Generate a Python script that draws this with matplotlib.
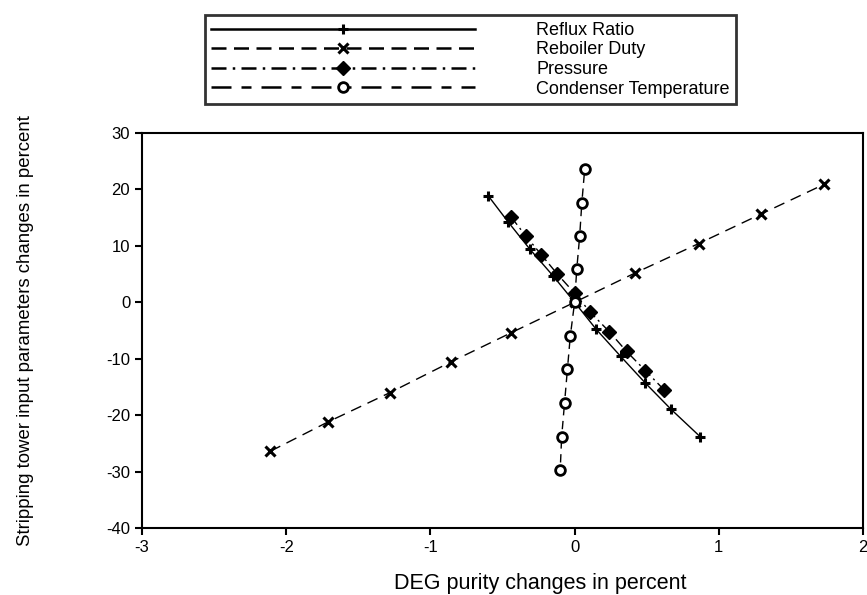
import matplotlib
matplotlib.use("Agg")
import matplotlib.pyplot as plt

plt.rcParams['font.family'] = ['Liberation Sans', 'DejaVu Sans']
plt.rcParams['axes.unicode_minus'] = False

# values (x: DEG purity change %, y: input change %)
reflux_x = [-0.60, -0.46, -0.31, -0.15, 0.0, 0.15, 0.32, 0.49, 0.67, 0.87]
reflux_y = [18.9, 14.2, 9.4, 4.7, 0.0, -4.8, -9.6, -14.3, -19.0, -23.8]

reboiler_x = [-2.11, -1.71, -1.28, -0.86, -0.44, 0.0, 0.42, 0.86, 1.29, 1.73]
reboiler_y = [-26.4, -21.2, -16.0, -10.6, -5.4, 0.0, 5.2, 10.4, 15.6, 20.9]

pressure_x = [-0.44, -0.34, -0.23, -0.12, 0.0, 0.11, 0.24, 0.36, 0.49, 0.62]
pressure_y = [15.1, 11.8, 8.4, 5.0, 1.6, -1.8, -5.2, -8.7, -12.1, -15.5]

condenser_x = [0.07, 0.05, 0.035, 0.015, 0.0, -0.03, -0.05, -0.07, -0.09, -0.10]
condenser_y = [23.6, 17.6, 11.7, 5.9, 0.0, -6.0, -11.9, -17.9, -23.9, -29.8]

labels = ['Reflux Ratio', 'Reboiler Duty', 'Pressure', 'Condenser Temperature']
xticks = [-3, -2, -1, 0, 1, 2]
yticks = [-40, -30, -20, -10, 0, 10, 20, 30]

fig = plt.figure(figsize=(8.67, 5.95), dpi=100)
ax = fig.add_axes([0.1638, 0.1126, 0.8316, 0.6639])

ax.plot(reflux_x, reflux_y, color='black', lw=1.0, ls='-',
        marker='+', ms=7, mew=2.2, label=labels[0])
ax.plot(reboiler_x, reboiler_y, color='black', lw=1.0, ls=(0, (8, 5)),
        marker='x', ms=7, mew=2.2, label=labels[1])
ax.plot(pressure_x, pressure_y, color='black', lw=1.0, ls=(0, (7, 3, 1.5, 3)),
        marker='D', ms=7, mfc='black', mec='black', label=labels[2])
ax.plot(condenser_x, condenser_y, color='black', lw=1.0, ls=(0, (10, 4, 6, 4)),
        marker='o', ms=7, mfc='white', mec='black', mew=2.0, label=labels[3])

ax.set_xlim(-3, 2)
ax.set_ylim(-40, 30)
ax.set_xticks(xticks)
ax.set_yticks(yticks)
ax.tick_params(direction='out', length=5, width=1.5, labelsize=12,
               top=False, right=False)
for sp in ax.spines.values():
    sp.set_linewidth(1.5)

ax.set_xlabel('DEG purity changes in percent', fontsize=15.5)
ax.xaxis.set_label_coords(0.553, -0.115)
ax.set_ylabel('Stripping tower input parameters changes in percent',
              fontsize=13.4)
ax.yaxis.set_label_coords(-0.150, 0.50)

leg = fig.legend(loc='upper left', bbox_to_anchor=(0.236, 0.974),
                 ncol=1, fontsize=13, handlelength=14.6, handletextpad=3.4,
                 labelspacing=0.14, numpoints=1, fancybox=False,
                 borderpad=0.36, borderaxespad=0)
leg.get_frame().set_edgecolor('black')
leg.get_frame().set_linewidth(2.0)

# thicker legend lines, dash patterns given in units of line width
legend_styles = ['-', (0, (6, 3)), (0, (6, 2.5, 1, 2.5)), (0, (8, 4, 4, 4))]
for h, st in zip(leg.legend_handles, legend_styles):
    h.set_linewidth(1.8)
    h.set_linestyle(st)

fig.savefig('out.png', dpi=100)
